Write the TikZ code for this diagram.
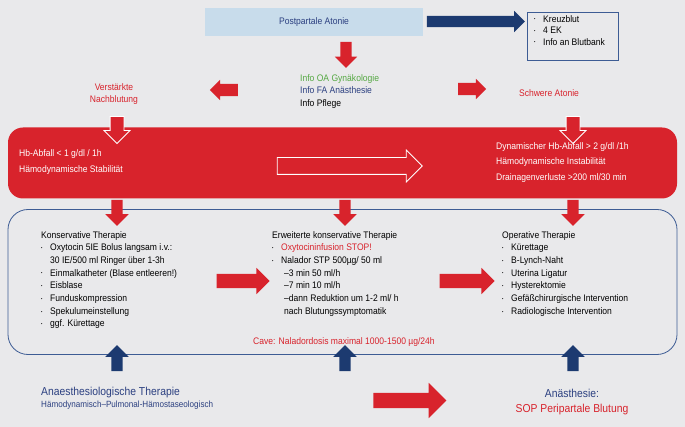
\documentclass[tikz,border=0pt]{standalone}
\usepackage{fontspec}
\setmainfont{Liberation Sans}[FakeStretch=0.9]
\usetikzlibrary{shapes.arrows}
\definecolor{bg}{HTML}{E9E9EB}
\definecolor{rd}{HTML}{D8232C}
\definecolor{nv}{HTML}{1C3A70}
\definecolor{bt}{HTML}{2B3F80}
\definecolor{gr}{HTML}{55A843}
\definecolor{lb}{HTML}{C8DCEB}
\definecolor{bl}{HTML}{3D5C94}
\newcommand{\bu}{\makebox[9pt][l]{\raisebox{1.2pt}{\scalebox{0.45}{\textbullet}}}}
\newcommand{\ind}{\hspace*{9pt}}
\begin{document}
\begin{tikzpicture}[x=1pt,y=-1pt,
  every node/.style={font=\fontsize{9.5}{12.7}\selectfont, align=left},
  blk/.style n args={3}{single arrow, draw=none, inner xsep=0pt, inner ysep=#1, single arrow head extend=#2, minimum height=#3, text width=0pt},
  red/.style={fill=rd},
  navy/.style={fill=nv},
  hollow/.style={fill=rd, draw=white, line width=0.8pt},
  tx/.style={anchor=north west, inner sep=0pt}]
\fill[bg] (0,0) rectangle (685,427);
\useasboundingbox (0,0) rectangle (685,427);
% top
\node[fill=lb, minimum width=218, minimum height=28, align=center, text=bt] (pa) at (314,22) {Postpartale Atonie};
\node[draw=bl, fill=bg, line width=0.8pt, minimum width=91, minimum height=48, anchor=north west] (kb) at (527,12) {};
\node[tx] (kbt) at (534,15) {\bu Kreuzblut\\[-1.2pt] \bu 4 EK\\[-1.2pt] \bu Info an Blutbank};
\node[blk={5.5}{5}{98}, navy] (a0) at (473,21.5) {};
\node[blk={5.5}{5.5}{26}, red, rotate=-90] (a1) at (346,52) {};
\node[tx] (info) at (300,74) {\textcolor{gr}{Info OA Gynäkologie}\\ \textcolor{bt}{Info FA Anästhesie}\\ Info Pflege};
\node[blk={6}{4}{28}, red, rotate=180] (al) at (227,90) {};
\node[blk={6}{4}{28}, red] (ar) at (469,89) {};
\node[text=rd, align=center, font=\fontsize{9.5}{11.5}\selectfont] (vn) at (114,94) {Verstärkte\\Nachblutung};
\node[text=rd] (sa) at (549,93) {Schwere Atonie};
% red box
\node[fill=rd, rounded corners=15, minimum width=669, minimum height=71] (rb) at (342.5,163) {};
\node[blk={6.5}{6}{27}, hollow, rotate=-90] (d1) at (117,126.5) {};
\node[blk={6.5}{6}{27}, hollow, rotate=-90] (d3) at (573,126.5) {};
\node[tx, text=white, font=\fontsize{9.5}{16.5}\selectfont] (lt) at (19,149) {Hb-Abfall < 1 g/dl / 1h\\ Hämodynamische Stabilität};
\node[tx, text=white, font=\fontsize{9.5}{15.5}\selectfont] (rt) at (496,142) {Dynamischer Hb-Abfall > 2 g/dl /1h\\ Hämodynamische Instabilität\\ Drainagenverluste >200 ml/30 min};
\node[blk={8}{7.5}{145}, fill=rd, draw=white, line width=0.8pt] (big) at (345.5,166) {};
% blue box
\node[draw=bl, line width=0.8pt, rounded corners=20, minimum width=669, minimum height=145] (bb) at (342.5,282) {};
\foreach \x/\n in {117/e1,345/e2,573/e3}
  \node[blk={5.5}{6}{26}, red, rotate=-90] (\n) at (\x,210) {};
\node[tx] (c1) at (41,231) {Konservative Therapie\\ \bu Oxytocin 5IE Bolus langsam i.v.:\\ \ind 30 IE/500 ml Ringer über 1-3h\\ \bu Einmalkatheter (Blase entleeren!)\\ \bu Eisblase\\ \bu Funduskompression\\ \bu Spekulumeinstellung\\ \bu ggf. Kürettage};
\node[tx] (c2) at (272,231) {Erweiterte konservative Therapie\\ \bu \textcolor{rd}{Oxytocininfusion STOP!}\\ \bu Nalador STP 500µg/ 50 ml\\ \ind\hspace*{3pt}–3 min 50 ml/h\\ \ind\hspace*{3pt}–7 min 10 ml/h\\ \ind\hspace*{3pt}–dann Reduktion um 1-2 ml/ h\\ \ind\hspace*{3pt}nach Blutungssymptomatik};
\node[tx] (c3) at (502,231) {Operative Therapie\\ \bu Kürettage\\ \bu B-Lynch-Naht\\ \bu Uterina Ligatur\\ \bu Hysterektomie\\ \bu Gefäßchirurgische Intervention\\ \bu Radiologische Intervention};
\node[blk={7}{6}{53}, red] (m1) at (239.5,281) {};
\node[blk={7}{6}{55}, red] (m2) at (463.5,281) {};
\node[text=rd] (cave) at (344,342) {Cave: Naladordosis maximal 1000-1500 µg/24h};
\foreach \x/\n in {117/u1,345/u2,573/u3}
  \node[blk={5.5}{6}{26}, navy, rotate=90] (\n) at (\x,361) {};
% bottom
\node[tx, text=bt] (an) at (41,387) {\fontsize{11.5}{13}\selectfont Anaesthesiologische Therapie\\[-1pt] \fontsize{9}{10}\selectfont Hämodynamisch–Pulmonal-Hämostaseologisch};
\node[blk={7.5}{10}{73}, red] (ab) at (406,400.5) {};
\node[align=center, font=\fontsize{11.5}{15.5}\selectfont] (sop) at (572,402) {\textcolor{bt}{Anästhesie:}\\ \textcolor{rd}{SOP Peripartale Blutung}};
\end{tikzpicture}
\end{document}
